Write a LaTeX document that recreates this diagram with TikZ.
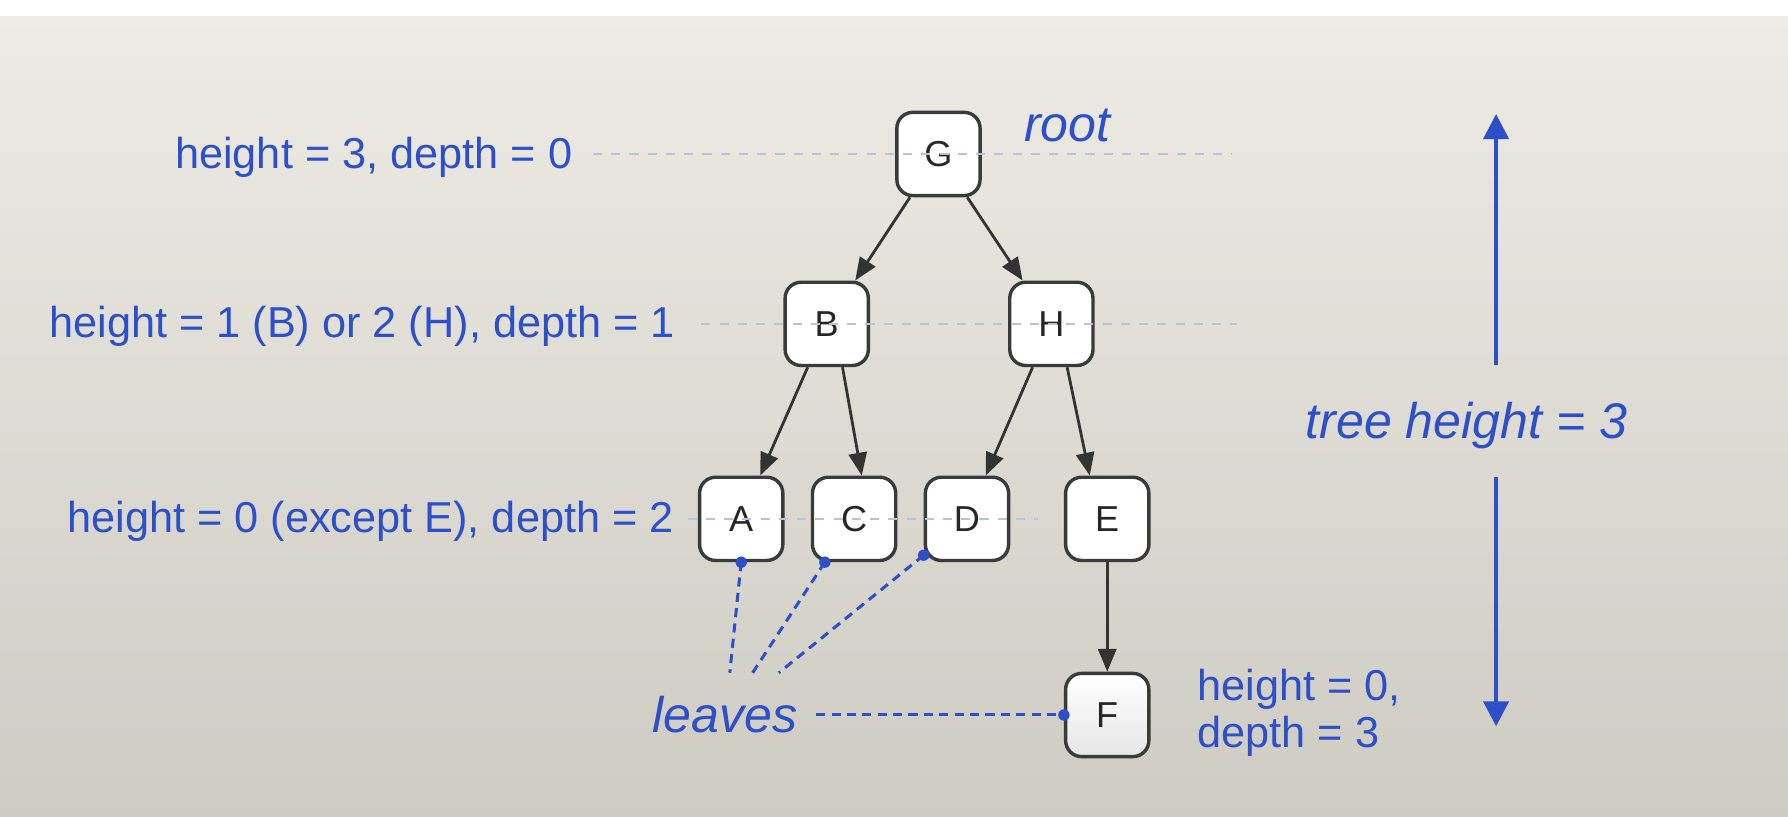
\documentclass[tikz,border=0pt]{standalone}
\usepackage{fontspec}
\setmainfont{Liberation Sans}
\usetikzlibrary{arrows.meta}

\definecolor{lblblue}{RGB}{45,80,200}
\definecolor{guidecol}{RGB}{188,194,214}
\definecolor{boxline}{RGB}{58,58,58}
\definecolor{bgtop}{RGB}{237,235,227}
\definecolor{bgmid}{RGB}{233,231,223}
\definecolor{bgbot}{RGB}{206,203,195}

\begin{document}
\begin{tikzpicture}[x = 0.02cm, y = -0.02cm,
    vert/.style = {draw = boxline, fill = white, line width = 1.7pt, rounded corners = 0.28cm,
                   minimum width = 1.46cm, minimum height = 1.46cm, inner sep = 0pt,
                   font = \fontsize{18}{18}\selectfont, text = black!85},
    treeedge/.style = {draw = black!80, line width = 1.4pt, -{Triangle[length = 0.4cm, width = 0.32cm]}},
    guide/.style = {draw = guidecol, line width = 1pt, dash pattern = on 0.16cm off 0.16cm},
    leafline/.style = {draw = lblblue, line width = 1.5pt, dash pattern = on 0.16cm off 0.11cm},
    lbl/.style = {text = lblblue, font = \fontsize{21.6}{23.4}\selectfont},
    note/.style = {text = lblblue, font = \fontsize{25}{28}\selectfont\itshape},
    span/.style = {draw = lblblue, line width = 2pt, -{Triangle[length = 0.44cm, width = 0.44cm]}}]

    % background
    \useasboundingbox (0,0) rectangle (1568,715.6);
    \shade[top color = bgtop, middle color = bgmid, bottom color = bgbot] (0,14) rectangle (1568,715.6);
    \fill[white] (0,0) rectangle (1568,14);

    % tree
    \node[vert] (G) at (823,135) {G};
    \node[vert] (B) at (725,284) {B};
    \node[vert] (H) at (922,284) {H};
    \node[vert] (A) at (650,455) {A};
    \node[vert] (C) at (749,455) {C};
    \node[vert] (D) at (848,455) {D};
    \node[vert] (E) at (971,455) {E};
    \node[vert, top color = white, bottom color = black!10] (F) at (971,627) {F};

    % level guides
    \coordinate (g0a) at (520,135);
    \coordinate (g0b) at (1080,135);
    \coordinate (g1a) at (615,284);
    \coordinate (g1b) at (1085,284);
    \coordinate (g2a) at (603,455);
    \coordinate (g2b) at (910,455);
    \draw[guide] (g0a) -- (g0b);
    \draw[guide] (g1a) -- (g1b);
    \draw[guide] (g2a) -- (g2b);

    \draw[treeedge] (G) -- (B);
    \draw[treeedge] (G) -- (H);
    \draw[treeedge] (B) -- (A);
    \draw[treeedge] (B.-70) -- (C.80);
    \draw[treeedge] (H) -- (D);
    \draw[treeedge] (H.-70) -- (E.112);
    \draw[treeedge] (E) -- (F);

    % labels
    \node[lbl, anchor = east] (h0) at (508,138) {height = 3, depth = 0};
    \node[lbl, anchor = east] (h1) at (598,286) {height = 1 (B) or 2 (H), depth = 1};
    \node[lbl, anchor = east] (h2) at (597,457) {height = 0 (except E), depth = 2};
    \node[lbl, anchor = west, align = left] (h3) at (1044,625) {height = 0,\\depth = 3};
    \node[note] (root) at (936,110) {root};
    \node[note] (leaves) at (636,627) {leaves};
    \node[note] (th) at (1286,373) {tree height = 3};

    % leaves pointers
    \coordinate (lvA) at (640,590);
    \coordinate (lvC) at (660,590);
    \coordinate (lvD) at (683,590);
    \draw[leafline] (A.south) -- (lvA);
    \draw[leafline] (C.-124) -- (lvC);
    \draw[leafline] (D.-140) -- (lvD);
    \draw[leafline] ([xshift = 0.2cm]leaves.east) -- (F.west);
    \fill[lblblue] (A.south) circle[radius = 0.1cm];
    \fill[lblblue] (C.-124) circle[radius = 0.1cm];
    \fill[lblblue] (D.-140) circle[radius = 0.1cm];
    \fill[lblblue] (F.west) circle[radius = 0.1cm];

    % tree height
    \coordinate (thu) at (1312,320);
    \coordinate (thtop) at (1312,100);
    \coordinate (thd) at (1312,418);
    \coordinate (thbot) at (1312,637);
    \draw[span] (thu) -- (thtop);
    \draw[span] (thd) -- (thbot);
\end{tikzpicture}
\end{document}
